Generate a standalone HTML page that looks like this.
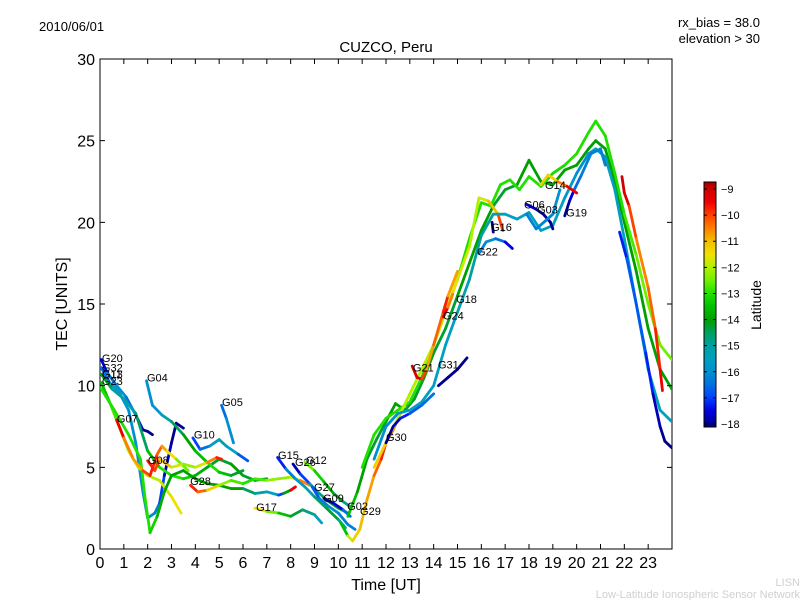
<!DOCTYPE html>
<html><head><meta charset="utf-8"><style>
body{margin:0;background:#fff;}
svg{display:block;font-family:"Liberation Sans","DejaVu Sans",sans-serif;}
</style></head><body>
<svg id="chart" width="800" height="600" viewBox="0 0 800 600">
<defs><clipPath id="pc"><rect x="100" y="59" width="572" height="490"/></clipPath>
<linearGradient id="jet" x1="0" y1="1" x2="0" y2="0"></linearGradient></defs>
<text x="39" y="31" font-size="13">2010/06/01</text>
<text x="760" y="27" font-size="13" text-anchor="end">rx_bias = 38.0</text>
<text x="760" y="43" font-size="13" text-anchor="end">elevation &gt; 30</text>
<text x="386" y="52" font-size="15" text-anchor="middle">CUZCO, Peru</text>
<rect x="100" y="59" width="572" height="490" fill="#fff" stroke="#000"/>
<g id="traces" clip-path="url(#pc)"></g>
<g id="labels"></g>
<g id="axes"></g>
<text x="386" y="590" font-size="16" text-anchor="middle">Time [UT]</text>
<text transform="translate(67,304) rotate(-90)" font-size="16" text-anchor="middle">TEC [UNITS]</text>
<rect x="704" y="182" width="12" height="245" fill="url(#jet)" stroke="#000"/>
<g id="cbticks"></g>
<text transform="translate(761,305) rotate(-90)" font-size="14" text-anchor="middle">Latitude</text>
<text x="800" y="586" font-size="11" fill="#d0d0d0" text-anchor="end">LISN</text>
<text x="800" y="598" font-size="11" fill="#d0d0d0" text-anchor="end">Low-Latitude Ionospheric Sensor Network</text>
</svg>
<script>
const xTicks=[0,1,2,3,4,5,6,7,8,9,10,11,12,13,14,15,16,17,18,19,20,21,22,23];
const yTicks=[0,5,10,15,20,25,30];
const cbTicks=[-9,-10,-11,-12,-13,-14,-15,-16,-17,-18];
const satNames=["G20","G32","G13","G11","G23","G04","G07","G05","G10","G08","G28","G15","G26","G12","G17","G27","G09","G02","G29","G30","G21","G31","G24","G18","G22","G16","G06","G03","G14","G19"];
const labelT=[0.08,0.08,0.08,0.08,0.08,1.97,0.71,5.12,3.94,2.01,3.78,7.47,8.18,8.64,6.55,8.98,9.36,10.37,10.91,12.0,13.13,14.18,14.39,14.94,15.82,16.41,17.79,18.34,18.67,19.56];
const labelV=[11.7,11.1,10.7,10.7,10.3,10.5,8.0,9.0,7.0,5.45,4.16,5.76,5.33,5.45,2.57,3.8,3.12,2.63,2.33,6.86,11.1,11.3,14.3,15.3,18.2,19.7,21.1,20.8,22.3,20.6];
const tracesData=[
[[0.05,11.6,-18],[0.3,10.8,-17],[0.7,10,-16],[1.1,9.3,-16],[1.5,8.2,-17],[1.8,7.3,-18],[2.0,7.2,-18],[2.2,7.0,-18]],
[[0.05,11.1,-17],[0.4,10.2,-16],[0.8,9.6,-15.5],[1.2,8.5,-16],[1.5,6.5,-16],[1.8,3.5,-16],[2.0,1.9,-16],[2.3,2.2,-16],[2.5,2.8,-16.5],[2.7,4.5,-17.5],[3.0,6.5,-18],[3.2,7.7,-18],[3.5,7.4,-18]],
[[0.05,10.7,-14],[0.5,9.8,-14.5],[1.0,9.2,-15.5],[1.5,8.3,-15],[2.0,6.0,-14],[2.5,5.0,-13],[3.0,4.5,-13],[3.5,4.3,-13],[4.0,4.5,-13.5],[4.5,5.0,-14],[5.0,5.5,-14.5],[5.5,5.2,-14],[6.0,4.5,-14],[6.5,4.2,-14.5],[7,4.3,-14]],
[[0.05,10.2,-14],[0.4,9,-13],[0.8,7.5,-12.5],[1.2,6,-12],[1.6,5,-11.5],[2.0,4.5,-12],[2.5,4.2,-12],[3.0,3.2,-11.5],[3.4,2.2,-11.5]],
[[0.05,9.8,-13],[0.6,8.5,-13],[1.2,7,-13],[1.7,5.5,-13],[1.9,3,-13],[2.1,1.0,-13],[2.4,2,-13.5],[2.7,3.5,-14],[3.0,4.5,-14],[3.5,4.8,-14],[4,4.3,-14],[4.5,4.0,-14],[5,3.9,-14],[5.5,3.7,-14],[6,3.7,-14],[6.5,3.4,-15],[7,3.5,-15],[7.5,3.3,-16],[7.7,3.4,-18],[8,3.6,-10],[8.2,3.8,-9]],
[[0.7,7.9,-9],[1.0,6.8,-10],[1.4,5.5,-11],[1.8,4.8,-10.5],[2.1,4.5,-9.5],[2.4,5.8,-10],[2.6,6.3,-10.5],[2.8,6.0,-11],[3.2,5.5,-12],[3.7,4.8,-13]],
[[1.95,10.3,-16],[2.2,8.8,-16],[2.6,8.2,-15.5],[3,7.8,-15],[3.5,7.0,-14],[4,6.0,-14],[4.5,5.3,-13],[5,4.7,-13],[5.5,4.5,-14],[6,4.8,-14.5]],
[[3.9,6.8,-17],[4.2,6.1,-17],[4.6,6.3,-16],[5,6.7,-15.5],[5.3,6.3,-15],[5.8,5.8,-16],[6.2,5.4,-17.5]],
[[5.1,8.8,-17],[5.3,8,-16],[5.5,7,-16],[5.6,6.5,-16]],
[[2.0,5.4,-10],[2.3,4.8,-9.5],[2.5,5.5,-10.5],[3.0,5.0,-11.5],[3.5,5.2,-12],[4,5.0,-12.5],[4.5,5.3,-11],[4.9,5.6,-10],[5.1,5.5,-9.5]],
[[3.8,3.9,-9.5],[4.1,3.5,-10],[4.5,3.6,-10.5],[5,3.9,-12],[5.5,4.2,-12.5],[6,4.0,-13],[6.5,4.3,-13],[7,4.2,-12.5],[7.5,4.3,-12],[8,4.4,-12.5],[8.4,4.2,-11],[8.8,3.9,-10]],
[[6.5,2.5,-11],[7,2.3,-12],[7.5,2.2,-13],[8,2.0,-14],[8.5,2.4,-14.5],[9,2.1,-15],[9.3,1.6,-16]],
[[7.45,5.6,-18],[7.8,4.9,-16.5],[8.2,4.3,-16],[8.6,3.8,-15.5],[9,3.2,-15],[9.5,2.5,-14],[10,1.8,-14.5],[10.3,1.3,-15.5]],
[[8.1,5.2,-18],[8.4,4.6,-17.5],[8.8,4.0,-16.5],[9.2,3.4,-15],[9.6,2.9,-14.5],[10,2.5,-14],[10.4,2.2,-13.5]],
[[8.6,5.3,-12],[9.0,4.8,-13],[9.4,4.1,-13.5],[9.8,3.4,-14],[10.2,2.9,-14.5],[10.5,2.6,-15]],
[[8.9,3.8,-17],[9.2,3.1,-16.5],[9.6,2.6,-16],[10,2.2,-16],[10.4,1.5,-16.5],[10.7,1.2,-16]],
[[9.4,3.1,-18],[9.8,2.8,-18],[10.2,2.4,-17],[10.5,2.0,-16]],
[[10.1,1.6,-15],[10.4,0.8,-12],[10.6,0.5,-11.5],[10.9,1.2,-11],[11.2,3,-11],[11.5,4.5,-10.5],[11.8,5.5,-10],[12,6.5,-9.5],[12.3,7.3,-10],[12.6,8.3,-10.5]],
[[10.4,2.0,-13],[10.8,3.5,-14],[11.2,5.5,-14],[11.6,6.7,-14.5],[12,7.8,-14],[12.4,8.9,-14],[12.8,8.5,-14],[13.2,9.2,-14.5],[13.6,10.5,-14],[14,12,-14],[14.5,13.5,-14.5],[15,15.5,-14],[15.5,17.5,-14],[16,19.5,-14],[16.5,21,-14],[17,22,-14.5],[17.5,22.3,-14],[18,23.8,-14],[18.5,22.5,-14],[19,22.3,-14],[19.5,23.2,-14],[20,23.5,-14],[20.5,24.5,-14],[20.8,25,-14],[21.2,24.5,-14],[21.6,22.5,-14],[22,20,-14],[22.5,17,-14],[23,13.5,-14],[23.5,11,-14],[23.99,9.8,-14]],
[[11,5,-13],[11.5,7,-13],[12,8,-13],[12.5,8.5,-13],[13,9,-13],[13.5,10.5,-13],[14,12.5,-13],[14.5,14.5,-13],[15,16.5,-13],[15.5,19,-13],[16,21.2,-13],[16.4,21,-13],[16.8,22.3,-13],[17.2,22.6,-13],[17.6,22,-13],[18,22.8,-13],[18.5,22.2,-13],[19,23,-13.2],[19.5,23.5,-13],[20,24.2,-13],[20.5,25.5,-13],[20.8,26.2,-13],[21.2,25.3,-13],[21.6,23,-13],[22,20.5,-13],[22.5,18,-12.5],[23,15,-12.5],[23.5,12.5,-12.5],[23.99,11.6,-12.5]],
[[11.5,5,-11],[12,6.5,-11.5],[12.5,8,-12],[13,9.5,-12],[13.5,11,-12],[14,12.5,-12],[14.5,14.5,-11.5],[15,16.5,-11.5],[15.5,18.5,-12],[15.9,21.5,-12],[16.3,21.3,-11.5],[16.7,20.5,-10.5],[16.9,19.5,-9.5]],
[[11.5,5.5,-16],[12,7.5,-16],[12.5,8.3,-16],[13,8.5,-15.5],[13.5,9,-15.5],[14,10,-15.5],[14.5,12.5,-15.5],[15,14.5,-15.5],[15.5,16.5,-15],[16,19.2,-15],[16.5,20.5,-15],[17,20.5,-15.5],[17.5,20.2,-15.5],[18,20.6,-15.5],[18.5,19.5,-15.5],[19,19.8,-15.5],[19.5,21.5,-15.5],[20,23,-16],[20.5,24.2,-16],[20.8,24.5,-15.5],[21.2,24,-15.5],[21.6,22,-15.5],[22,19,-15.5],[22.5,15,-15.5],[23,11,-15.5],[23.5,8.5,-15.5],[23.99,7.8,-15.5]],
[[12,6.5,-18],[12.3,7.5,-18],[12.6,8,-17.5],[13,8.3,-17],[13.5,8.8,-16.5],[14,9.5,-16.5]],
[[14.2,10,-18],[14.6,10.5,-18],[15,11,-18],[15.4,11.7,-18]],
[[15.9,18.1,-16.5],[16.2,18.8,-16],[16.6,19.0,-16],[17,18.8,-17],[17.3,18.4,-18]],
[[16.45,20,-18],[16.5,19.4,-18]],
[[17.9,21.1,-17.5],[18.3,20.8,-17.5],[18.6,20.5,-18],[18.9,20.0,-18],[19.0,19.6,-18]],
[[17.9,20.5,-16.5],[18.3,19.6,-16],[18.7,20.1,-16.5],[19,20.5,-16],[19.3,22.0,-16]],
[[19.5,20.4,-18],[19.7,21.3,-18],[19.9,22.0,-17],[20.2,22.9,-16],[20.6,24.2,-16.5],[21,24.5,-16],[21.2,23.5,-16.5]],
[[18.5,22.3,-11],[18.8,22.9,-11.5],[19.2,22.5,-11],[19.6,22.2,-10],[20,21.8,-9]],
[[13.1,11.2,-9],[13.3,10.5,-9],[13.5,10.4,-9.5],[13.7,11.0,-10.5],[14,12.5,-11],[14.4,14.5,-9.5],[14.6,15.5,-10],[15,17,-11.5]],
[[14.4,14.2,-9],[14.6,14.8,-10],[14.8,15.6,-11]],
[[21.9,22.8,-9],[22,21.8,-9],[22.2,21.0,-9.5],[22.5,19,-10.5],[23,16,-10.5],[23.3,13.5,-10],[23.5,11,-9.5],[23.6,9.7,-9.5]],
[[21.8,19.4,-17.5],[22.1,17.8,-17],[22.5,15,-16.5],[22.9,12,-17],[23.2,9.5,-17.5],[23.5,7.5,-18],[23.7,6.6,-18],[23.99,6.2,-18]]
];
const NS='http://www.w3.org/2000/svg';
const X0=100,X1=672,Y0=549,Y1=59;
function xs(t){return X0+t*(X1-X0)/24;}
function ys(v){return Y0-v*(Y0-Y1)/30;}
function cy(l){return 424-(l+18)*(424-189)/9;}
const cmapL=[-18,-17.5,-17,-16.5,-16,-15.5,-15,-14.5,-14,-13.5,-13,-12.5,-12,-11.5,-11,-10.5,-10,-9.5,-9,-8.7];
const cmapC=[[0,0,140],[0,0,224],[0,64,255],[0,112,224],[0,144,208],[0,160,192],[0,160,160],[0,160,96],[0,160,0],[0,192,0],[32,224,0],[112,240,0],[176,240,0],[240,224,0],[240,192,0],[255,128,0],[255,64,0],[238,0,0],[208,0,0],[160,0,0]];
function jet(l){
 if(l<=cmapL[0])return 'rgb('+cmapC[0]+')';
 for(let i=0;i<cmapL.length-1;i++){
  if(l<=cmapL[i+1]){const f=(l-cmapL[i])/(cmapL[i+1]-cmapL[i]);
   const c=cmapC[i].map((v,k)=>Math.round(v+(cmapC[i+1][k]-v)*f));return 'rgb('+c+')';}
 }
 return 'rgb('+cmapC[cmapC.length-1]+')';
}
const grad=document.getElementById('jet');
cmapL.forEach((l,i)=>{const s=document.createElementNS(NS,'stop');
 s.setAttribute('offset',(cy(l)-427)/(182-427));s.setAttribute('stop-color','rgb('+cmapC[i]+')');grad.appendChild(s);});
const gT=document.getElementById('traces');
tracesData.forEach((tr,i)=>{
 for(let j=0;j<tr.length-1;j++){
  const a=tr[j],b=tr[j+1];
  const ln=document.createElementNS(NS,'line');
  ln.setAttribute('x1',xs(a[0]));ln.setAttribute('y1',ys(a[1]));
  ln.setAttribute('x2',xs(b[0]));ln.setAttribute('y2',ys(b[1]));
  ln.setAttribute('stroke',jet((a[2]+b[2])/2));ln.setAttribute('stroke-width','2.8');
  ln.setAttribute('stroke-linecap','round');
  
  
  gT.appendChild(ln);
 }
});
const gL=document.getElementById('labels');
satNames.forEach((n,i)=>{
 const t=document.createElementNS(NS,'text');
 t.setAttribute('x',xs(labelT[i]));t.setAttribute('y',ys(labelV[i])+4);
 t.setAttribute('font-size','11');t.textContent=n;
 
 
 gL.appendChild(t);
});
const gA=document.getElementById('axes');
function mk(tag,attrs,txt){const e=document.createElementNS(NS,tag);for(const k in attrs)e.setAttribute(k,attrs[k]);if(txt!==undefined)e.textContent=txt;return e;}
xTicks.forEach(v=>{
 const x=xs(v);
 const a=mk('path',{d:`M${x},${Y0}v-5M${x},${Y1}v5`,stroke:'#000'});
 
 
 gA.appendChild(a);
 const t=mk('text',{x:x,y:568,'font-size':'16','text-anchor':'middle'},String(v));
 
 
 gA.appendChild(t);
});
yTicks.forEach(v=>{
 const y=ys(v);
 const a=mk('path',{d:`M${X0},${y}h5M${X1},${y}h-5`,stroke:'#000'});
 
 
 gA.appendChild(a);
 const t=mk('text',{x:95,y:y+6,'font-size':'16','text-anchor':'end'},String(v));
 
 
 gA.appendChild(t);
});
const gC=document.getElementById('cbticks');
cbTicks.forEach(v=>{
 const y=cy(v);
 const a=mk('path',{d:`M704,${y}h3M716,${y}h-3`,stroke:'#000'});
 
 
 gC.appendChild(a);
 const t=mk('text',{x:721,y:y+4,'font-size':'11'},'\u2212'+Math.abs(v));
 
 
 gC.appendChild(t);
});
</script>
</body></html>
